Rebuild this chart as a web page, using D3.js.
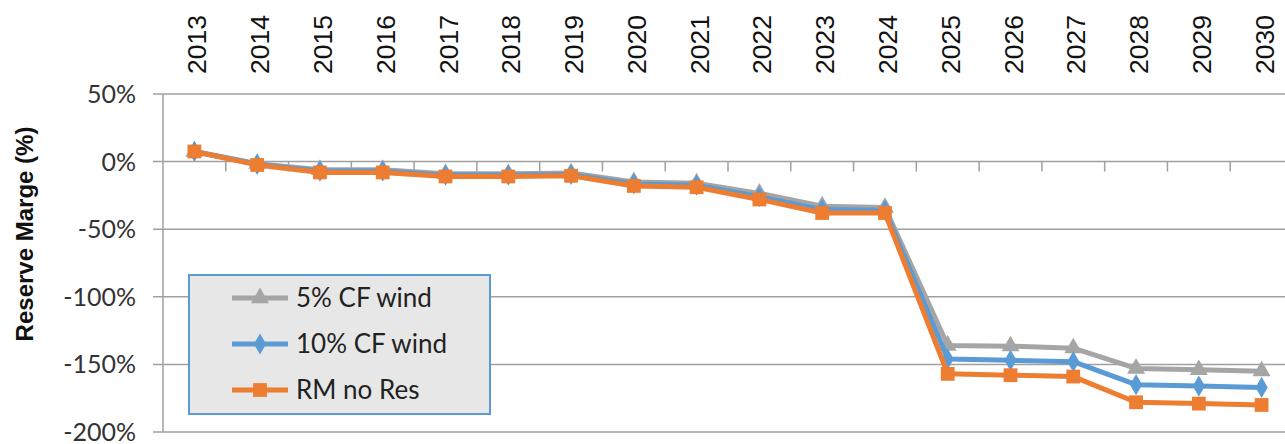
<!DOCTYPE html>
<html>
<head>
<meta charset="utf-8">
<script src="https://cdn.jsdelivr.net/npm/d3@7"></script>
<style>
  body { margin: 0; background: #fff; }
  svg { display: block; overflow: hidden; }
</style>
</head>
<body>
<div id="line-chart"></div>
<script>
// data
const years = ["2013", "2014", "2015", "2016", "2017", "2018", "2019", "2020", "2021",
  "2022", "2023", "2024", "2025", "2026", "2027", "2028", "2029", "2030"];
const cf5Wind = [7.5, -1.5, -6, -6, -9, -9, -8.5, -15, -16, -23.5, -33, -34,
  -136, -136.5, -138, -153, -154, -155];
const cf10Wind = [7.5, -2, -7, -7, -10, -10, -9.5, -16.5, -17.5, -26, -35.5, -36,
  -146, -147, -148, -165, -166, -167];
const rmNoRes = [7.5, -2.5, -8, -8, -11, -11, -10.5, -18, -19, -28, -38, -38,
  -157, -158, -159, -178, -179, -180];
const yTicks = [50, 0, -50, -100, -150, -200];
const seriesNames = ["5% CF wind", "10% CF wind", "RM no Res"];

const svgWidth = 1285;
const svgHeight = 444;
const margin = { top: 94, right: -8, bottom: 12, left: 163 };
const width = svgWidth - margin.left - margin.right;
const height = svgHeight - margin.top - margin.bottom;

const svg = d3.select("#line-chart").append("svg")
  .attr("width", svgWidth)
  .attr("height", svgHeight);

const g = svg.append("g")
  .attr("transform", "translate(" + margin.left + "," + margin.top + ")");

// scales
const x = d3.scaleBand()
  .domain(years)
  .range([0, width])
  .padding(0);

const y = d3.scaleLinear()
  .domain([-200, 50])
  .range([height, 0]);

const gridColor = "#a0a0a0";

// horizontal gridlines + outer ticks on the left
g.selectAll(".grid")
  .data(yTicks)
  .enter().append("line")
  .attr("class", "grid")
  .attr("x1", -10)
  .attr("x2", width)
  .attr("y1", d => y(d))
  .attr("y2", d => y(d))
  .attr("stroke", gridColor)
  .attr("stroke-width", 1.5);

// vertical axis line
g.append("line")
  .attr("x1", 0).attr("x2", 0)
  .attr("y1", 0).attr("y2", height)
  .attr("stroke", gridColor)
  .attr("stroke-width", 1.5);

// y axis labels
g.selectAll(".ylabel")
  .data(yTicks)
  .enter().append("text")
  .attr("class", "ylabel")
  .attr("x", -27)
  .attr("y", d => y(d))
  .attr("dy", "0.36em")
  .attr("text-anchor", "end")
  .style("font-family", "Lato, 'Open Sans', sans-serif")
  .style("font-size", "25px")
  .style("fill", "#333")
  .text(d => d + "%");

// category ticks along the 0% line
g.selectAll(".xtick")
  .data(years.slice(1))
  .enter().append("line")
  .attr("class", "xtick")
  .attr("x1", d => x(d))
  .attr("x2", d => x(d))
  .attr("y1", y(0))
  .attr("y2", y(0) + 10)
  .attr("stroke", gridColor)
  .attr("stroke-width", 1.5);

// year labels on top, rotated
g.selectAll(".xlabel")
  .data(years)
  .enter().append("text")
  .attr("class", "xlabel")
  .attr("transform", d => "translate(" + (x(d) + x.bandwidth() / 2 + 2.5) + "," + (-20) + ") rotate(-90)")
  .attr("dy", "0.36em")
  .attr("text-anchor", "start")
  .style("font-family", "'Liberation Sans', Arial, sans-serif")
  .style("font-size", "26.5px")
  .style("fill", "#111")
  .text(d => d);

// y axis title
svg.append("text")
  .attr("transform", "translate(33,234) rotate(-90)")
  .attr("text-anchor", "middle")
  .style("font-family", "'Liberation Sans', Arial, sans-serif")
  .style("font-weight", "bold")
  .style("font-size", "24px")
  .style("fill", "#111")
  .text("Reserve Marge (%)");

// series
const series = [
  { name: seriesNames[0], values: cf5Wind, color: "#a5a5a5", symbol: d3.symbolTriangle, size: 140 },
  { name: seriesNames[1], values: cf10Wind, color: "#5b9bd5", symbol: d3.symbolDiamond, size: 130 },
  { name: seriesNames[2], values: rmNoRes, color: "#ed7d31", symbol: d3.symbolSquare, size: 190 }
];

const line = d3.line()
  .x((d, i) => x(years[i]) + x.bandwidth() / 2)
  .y(d => y(d));

series.forEach(s => {
  g.append("path")
    .datum(s.values)
    .attr("fill", "none")
    .attr("stroke", s.color)
    .attr("stroke-width", 5)
    .attr("stroke-linejoin", "round")
    .attr("d", line);

  g.selectAll(null)
    .data(s.values)
    .enter().append("path")
    .attr("transform", (d, i) => "translate(" + (x(years[i]) + x.bandwidth() / 2) + "," + y(d) + ")")
    .attr("d", d3.symbol().type(s.symbol).size(s.size))
    .attr("fill", s.color);
});

// legend
const legend = svg.append("g")
  .attr("transform", "translate(189,275)");

legend.append("rect")
  .attr("width", 301)
  .attr("height", 139)
  .attr("fill", "#e7e7e7")
  .attr("stroke", "#5b9bd5")
  .attr("stroke-width", 2);

const rows = legend.selectAll(".row")
  .data(series)
  .enter().append("g")
  .attr("class", "row")
  .attr("transform", (d, i) => "translate(0," + (23 + i * 46) + ")");

rows.append("line")
  .attr("x1", 43).attr("x2", 99)
  .attr("stroke", d => d.color)
  .attr("stroke-width", 5);

rows.append("path")
  .attr("transform", "translate(71,0)")
  .attr("d", d => d3.symbol().type(d.symbol).size(d.size)())
  .attr("fill", d => d.color);

rows.append("text")
  .attr("x", 107)
  .attr("dy", "0.36em")
  .style("font-family", "Lato, 'Open Sans', sans-serif")
  .style("font-size", "26px")
  .style("fill", "#222")
  .text(d => d.name);
</script>
</body>
</html>
